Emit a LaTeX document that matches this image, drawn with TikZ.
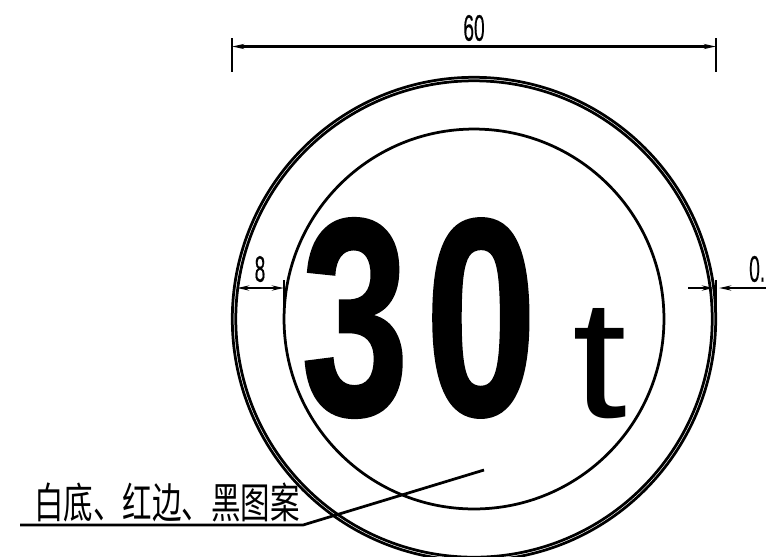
\documentclass[tikz,border=0pt]{standalone}
\usepackage{fontspec}
\setmainfont{Liberation Sans}
\newfontfamily\cjk{Noto Sans CJK SC}
\newfontfamily\signfont[FakeBold=1.0]{Liberation Sans Bold}
\newfontfamily\dimfont[FakeBold=0.5]{Liberation Sans}
\usetikzlibrary{arrows.meta}

\tikzset{
	ring/.style={circle, draw, line width=0.055cm, inner sep=0pt},
	dimline/.style={line width=0.05cm},
	dimtext/.style={inner sep=0pt, xscale=0.52, font=\dimfont\fontsize{21}{21}\selectfont},
	signtext/.style={inner sep=0pt, font=\signfont\fontsize{100}{100}\selectfont}
}

\begin{document}
\begin{tikzpicture}[x=0.02cm, y=-0.02cm, >={Stealth[length=0.24cm, width=0.1cm]}]
		\useasboundingbox (0, 0) rectangle (766, 556);
		\clip (0, 0) rectangle (766, 556);

		\node[ring, minimum size=9.67cm] (outer) at (474, 319) {};
		\node[ring, minimum size=9.53cm] (outerb) at (474, 319) {};
		\node[ring, minimum size=7.60cm] (inner) at (474, 319) {};

		\node[signtext, xscale=1.10, yscale=1.60] (three) at (355, 318) {3};
		\node[signtext, xscale=1.14, yscale=1.60] (zero) at (481, 318) {0};
		\node[inner sep=0pt, font=\fontsize{100}{100}\selectfont, xscale=1.12, yscale=0.96] (unit) at (600, 364) {t};

		% top dimension
		\coordinate (topa) at (232, 38);
		\coordinate (topb) at (232, 72);
		\coordinate (topc) at (716, 38);
		\coordinate (topd) at (716, 72);
		\coordinate (topl) at (232, 46.5);
		\coordinate (topr) at (716, 46.5);
		\draw[dimline] (topa) -- (topb);
		\draw[dimline] (topc) -- (topd);
		\draw[dimline, <->] (topl) -- (topr);
		\node[dimtext] (width) at (474, 28) {60};

		% left dimension
		\coordinate (lefta) at (237, 288);
		\coordinate (leftb) at (284, 288);
		\coordinate (leftc) at (284, 280);
		\coordinate (leftd) at (284, 312);
		\draw[dimline, <->] (lefta) -- (leftb);
		\draw[dimline] (leftc) -- (leftd);
		\node[dimtext] (band) at (260, 269) {8};

		% right dimension
		\coordinate (righta) at (688, 288);
		\coordinate (rightb) at (714, 288);
		\coordinate (rightc) at (766, 288);
		\coordinate (rightd) at (719, 288);
		\coordinate (righte) at (716, 280);
		\coordinate (rightf) at (716, 318);
		\draw[dimline, ->] (righta) -- (rightb);
		\draw[dimline, ->] (rightc) -- (rightd);
		\draw[dimline] (righte) -- (rightf);
		\node[dimtext, anchor=west] (edge) at (749, 269) {0.};

		% leader
		\coordinate (leada) at (20, 525);
		\coordinate (leadb) at (303, 525);
		\coordinate (leadc) at (484, 470);
		\draw[line width=0.055cm] (leada) -- (leadb) -- (leadc);
		\node[inner sep=0pt, xscale=0.70, font=\cjk\fontsize{24}{24}\selectfont] (note) at (167, 502) {白底、红边、黑图案};
	\end{tikzpicture}
\end{document}
